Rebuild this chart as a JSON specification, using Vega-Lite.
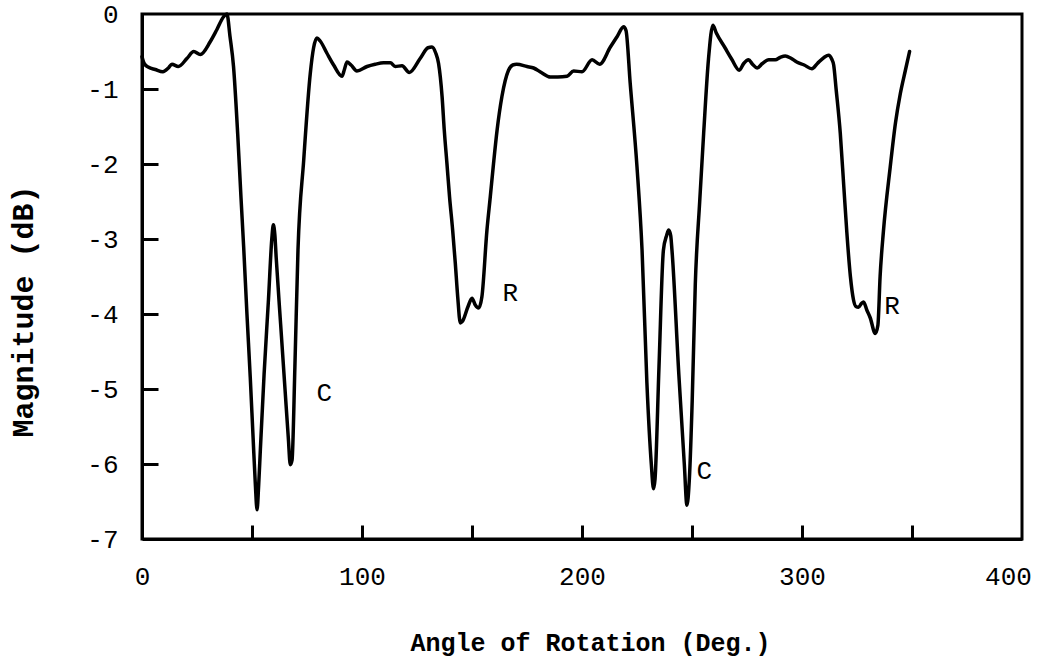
{
  "$schema": "https://vega.github.io/schema/vega-lite/v6.json",
  "width": 880,
  "height": 525,
  "autosize": "none",
  "padding": {"left": 142, "top": 14, "right": 20, "bottom": 127},
  "background": "white",
  "config": {
    "view": {"stroke": "black", "strokeWidth": 3},
    "axis": {
      "grid": false,
      "domainColor": "black",
      "domainWidth": 3,
      "tickColor": "black",
      "tickWidth": 2.5,
      "labelColor": "black",
      "titleColor": "black",
      "labelFont": "Liberation Mono",
      "titleFont": "Liberation Mono",
      "labelFontSize": 26
    }
  },
  "resolve": {"axis": {"x": "independent", "y": "independent"}},
  "layer": [
    {
      "data": {
        "values": [
          {"angle": 0, "dB": -0.57}, {"angle": 1, "dB": -0.66}, {"angle": 3, "dB": -0.71}, {"angle": 6, "dB": -0.74},
          {"angle": 9.5, "dB": -0.77}, {"angle": 12, "dB": -0.72}, {"angle": 13.6, "dB": -0.67}, {"angle": 16.5, "dB": -0.7},
          {"angle": 20.5, "dB": -0.59}, {"angle": 23.5, "dB": -0.5}, {"angle": 26.5, "dB": -0.54}, {"angle": 31, "dB": -0.37},
          {"angle": 34, "dB": -0.21}, {"angle": 37, "dB": -0.04}, {"angle": 38.6, "dB": 0}, {"angle": 40, "dB": -0.3},
          {"angle": 41.6, "dB": -0.7}, {"angle": 43.5, "dB": -1.6}, {"angle": 45, "dB": -2.45}, {"angle": 46.2, "dB": -3.1},
          {"angle": 47.7, "dB": -4.0}, {"angle": 49.2, "dB": -4.84}, {"angle": 50.5, "dB": -5.65}, {"angle": 51.5, "dB": -6.26},
          {"angle": 52.3, "dB": -6.61}, {"angle": 53, "dB": -6.3}, {"angle": 53.8, "dB": -5.81}, {"angle": 55.5, "dB": -4.8},
          {"angle": 57.5, "dB": -3.8}, {"angle": 59, "dB": -3.0}, {"angle": 59.7, "dB": -2.81}, {"angle": 60.4, "dB": -2.95},
          {"angle": 61, "dB": -3.25}, {"angle": 63, "dB": -4.13}, {"angle": 65, "dB": -5.0}, {"angle": 66.5, "dB": -5.65},
          {"angle": 67.4, "dB": -6.01}, {"angle": 68.2, "dB": -5.95}, {"angle": 69.5, "dB": -4.7}, {"angle": 70.9, "dB": -3.15},
          {"angle": 73.5, "dB": -1.95}, {"angle": 76.5, "dB": -0.79}, {"angle": 78, "dB": -0.45}, {"angle": 79.5, "dB": -0.32},
          {"angle": 81, "dB": -0.36}, {"angle": 84, "dB": -0.52}, {"angle": 87.1, "dB": -0.68}, {"angle": 90.9, "dB": -0.83},
          {"angle": 92, "dB": -0.74}, {"angle": 93.2, "dB": -0.64}, {"angle": 95, "dB": -0.68}, {"angle": 97.7, "dB": -0.76},
          {"angle": 102.3, "dB": -0.7}, {"angle": 106, "dB": -0.67}, {"angle": 109.8, "dB": -0.65}, {"angle": 112.9, "dB": -0.65},
          {"angle": 115.1, "dB": -0.7}, {"angle": 118.2, "dB": -0.69}, {"angle": 121.5, "dB": -0.78}, {"angle": 126.5, "dB": -0.59},
          {"angle": 130, "dB": -0.45}, {"angle": 131.8, "dB": -0.44}, {"angle": 133.5, "dB": -0.52}, {"angle": 134.8, "dB": -0.66},
          {"angle": 136.4, "dB": -1.1}, {"angle": 137.4, "dB": -1.55}, {"angle": 138.6, "dB": -1.99}, {"angle": 139.8, "dB": -2.44},
          {"angle": 141.2, "dB": -2.88}, {"angle": 142.4, "dB": -3.32}, {"angle": 143.5, "dB": -3.77}, {"angle": 144.7, "dB": -4.12},
          {"angle": 145.6, "dB": -4.1}, {"angle": 148.2, "dB": -3.9}, {"angle": 150, "dB": -3.79}, {"angle": 151.5, "dB": -3.88},
          {"angle": 153, "dB": -3.92}, {"angle": 154.5, "dB": -3.77}, {"angle": 156.8, "dB": -2.88}, {"angle": 158.3, "dB": -2.44},
          {"angle": 159.8, "dB": -1.99}, {"angle": 161.4, "dB": -1.55}, {"angle": 163.6, "dB": -1.1}, {"angle": 166.6, "dB": -0.75},
          {"angle": 168.5, "dB": -0.68}, {"angle": 170.3, "dB": -0.67}, {"angle": 175, "dB": -0.7}, {"angle": 178, "dB": -0.72},
          {"angle": 181.5, "dB": -0.78}, {"angle": 185.6, "dB": -0.84}, {"angle": 189, "dB": -0.84}, {"angle": 193.2, "dB": -0.83},
          {"angle": 196.2, "dB": -0.76}, {"angle": 200, "dB": -0.77}, {"angle": 204.6, "dB": -0.61}, {"angle": 208, "dB": -0.67},
          {"angle": 212.9, "dB": -0.44}, {"angle": 216, "dB": -0.3}, {"angle": 218.9, "dB": -0.17}, {"angle": 220, "dB": -0.22},
          {"angle": 221.9, "dB": -0.92}, {"angle": 225, "dB": -2.04}, {"angle": 227.3, "dB": -3.15}, {"angle": 229.5, "dB": -4.92},
          {"angle": 231.5, "dB": -6.0}, {"angle": 232.5, "dB": -6.33}, {"angle": 233.2, "dB": -6.2}, {"angle": 235, "dB": -4.7},
          {"angle": 237, "dB": -3.15}, {"angle": 238.5, "dB": -2.95}, {"angle": 239.4, "dB": -2.88}, {"angle": 240.3, "dB": -2.95},
          {"angle": 240.9, "dB": -3.15}, {"angle": 244, "dB": -4.8}, {"angle": 246.5, "dB": -6.0}, {"angle": 247.7, "dB": -6.55},
          {"angle": 248.8, "dB": -6.2}, {"angle": 250.1, "dB": -5.15}, {"angle": 251.5, "dB": -3.6}, {"angle": 253.5, "dB": -2.5},
          {"angle": 255.3, "dB": -1.59}, {"angle": 257.5, "dB": -0.6}, {"angle": 259.5, "dB": -0.15}, {"angle": 261, "dB": -0.25},
          {"angle": 265, "dB": -0.45}, {"angle": 268, "dB": -0.6}, {"angle": 271.5, "dB": -0.75}, {"angle": 273.5, "dB": -0.66},
          {"angle": 275.7, "dB": -0.61}, {"angle": 277.5, "dB": -0.67}, {"angle": 279.6, "dB": -0.72}, {"angle": 282, "dB": -0.66},
          {"angle": 284.9, "dB": -0.61}, {"angle": 287.9, "dB": -0.61}, {"angle": 290, "dB": -0.58}, {"angle": 292.4, "dB": -0.56},
          {"angle": 295, "dB": -0.59}, {"angle": 297.6, "dB": -0.64}, {"angle": 301, "dB": -0.68}, {"angle": 304.5, "dB": -0.73},
          {"angle": 307, "dB": -0.66}, {"angle": 310, "dB": -0.58}, {"angle": 312.1, "dB": -0.55}, {"angle": 313.5, "dB": -0.6},
          {"angle": 314.4, "dB": -0.68}, {"angle": 315.5, "dB": -1.0}, {"angle": 317.4, "dB": -1.59}, {"angle": 319, "dB": -2.3},
          {"angle": 320.4, "dB": -2.92}, {"angle": 322, "dB": -3.5}, {"angle": 323.4, "dB": -3.81}, {"angle": 324.5, "dB": -3.9},
          {"angle": 325.7, "dB": -3.91}, {"angle": 327, "dB": -3.86}, {"angle": 328, "dB": -3.84}, {"angle": 329.5, "dB": -3.95},
          {"angle": 331, "dB": -4.05}, {"angle": 333.3, "dB": -4.26}, {"angle": 334.5, "dB": -4.15}, {"angle": 335.5, "dB": -3.5},
          {"angle": 337, "dB": -2.9}, {"angle": 340.1, "dB": -2.04}, {"angle": 342.5, "dB": -1.45}, {"angle": 344.7, "dB": -1.06},
          {"angle": 347, "dB": -0.75}, {"angle": 348.9, "dB": -0.5}
        ]
      },
      "mark": {"type": "line", "color": "black", "strokeWidth": 3.5, "interpolate": "monotone", "strokeJoin": "round", "strokeCap": "round"},
      "encoding": {
        "x": {
          "field": "angle", "type": "quantitative",
          "scale": {"domain": [0, 400], "nice": false},
          "axis": {
            "orient": "bottom",
            "values": [0, 100, 200, 300, 400],
            "ticks": false,
            "labelPadding": 24,
            "labelFlush": false,
            "labelOverlap": false,
            "labelOffset": {"condition": {"test": "datum.value == 400", "value": -14}, "value": 0},
            "title": "Angle of Rotation (Deg.)",
            "titleFontSize": 25,
            "titleFontWeight": "bold",
            "titleX": 448,
            "titleY": 111,
            "titleAlign": "center",
            "titleBaseline": "alphabetic"
          }
        },
        "y": {
          "field": "dB", "type": "quantitative",
          "scale": {"domain": [-7, 0], "nice": false},
          "axis": {
            "orient": "left",
            "values": [0, -1, -2, -3, -4, -5, -6, -7],
            "labelExpr": "'' + datum.value",
            "ticks": false,
            "labelPadding": 24,
            "labelFlush": false,
            "labelOverlap": false,
            "title": "Magnitude (dB)",
            "titleFontSize": 30,
            "titleFontWeight": "bold",
            "titleAngle": 270,
            "titleX": -110,
            "titleY": 297,
            "titleAlign": "center",
            "titleBaseline": "alphabetic"
          }
        }
      }
    },
    {
      "data": {
        "values": [
          {"angle": 82.9, "dB": -5.05, "label": "C"},
          {"angle": 167.4, "dB": -3.72, "label": "R"},
          {"angle": 255.6, "dB": -6.09, "label": "C"},
          {"angle": 340.9, "dB": -3.89, "label": "R"}
        ]
      },
      "mark": {"type": "text", "font": "Liberation Mono", "fontSize": 26, "color": "black", "align": "center", "baseline": "middle"},
      "encoding": {
        "x": {
          "field": "angle", "type": "quantitative",
          "scale": {"domain": [0, 400], "nice": false},
          "axis": {
            "orient": "bottom",
            "offset": -14,
            "values": [50, 100, 150, 200, 250, 300, 350],
            "domain": false,
            "labels": false,
            "ticks": true,
            "tickSize": 14,
            "tickColor": "black",
            "tickWidth": 3,
            "zindex": 2,
            "title": null
          }
        },
        "y": {
          "field": "dB", "type": "quantitative",
          "scale": {"domain": [-7, 0], "nice": false},
          "axis": {
            "orient": "left",
            "offset": -16,
            "values": [-1, -2, -3, -4, -5, -6],
            "domain": false,
            "labels": false,
            "ticks": true,
            "tickSize": 16,
            "tickColor": "black",
            "tickWidth": 3,
            "zindex": 2,
            "title": null
          }
        },
        "text": {"field": "label"}
      }
    }
  ]
}
